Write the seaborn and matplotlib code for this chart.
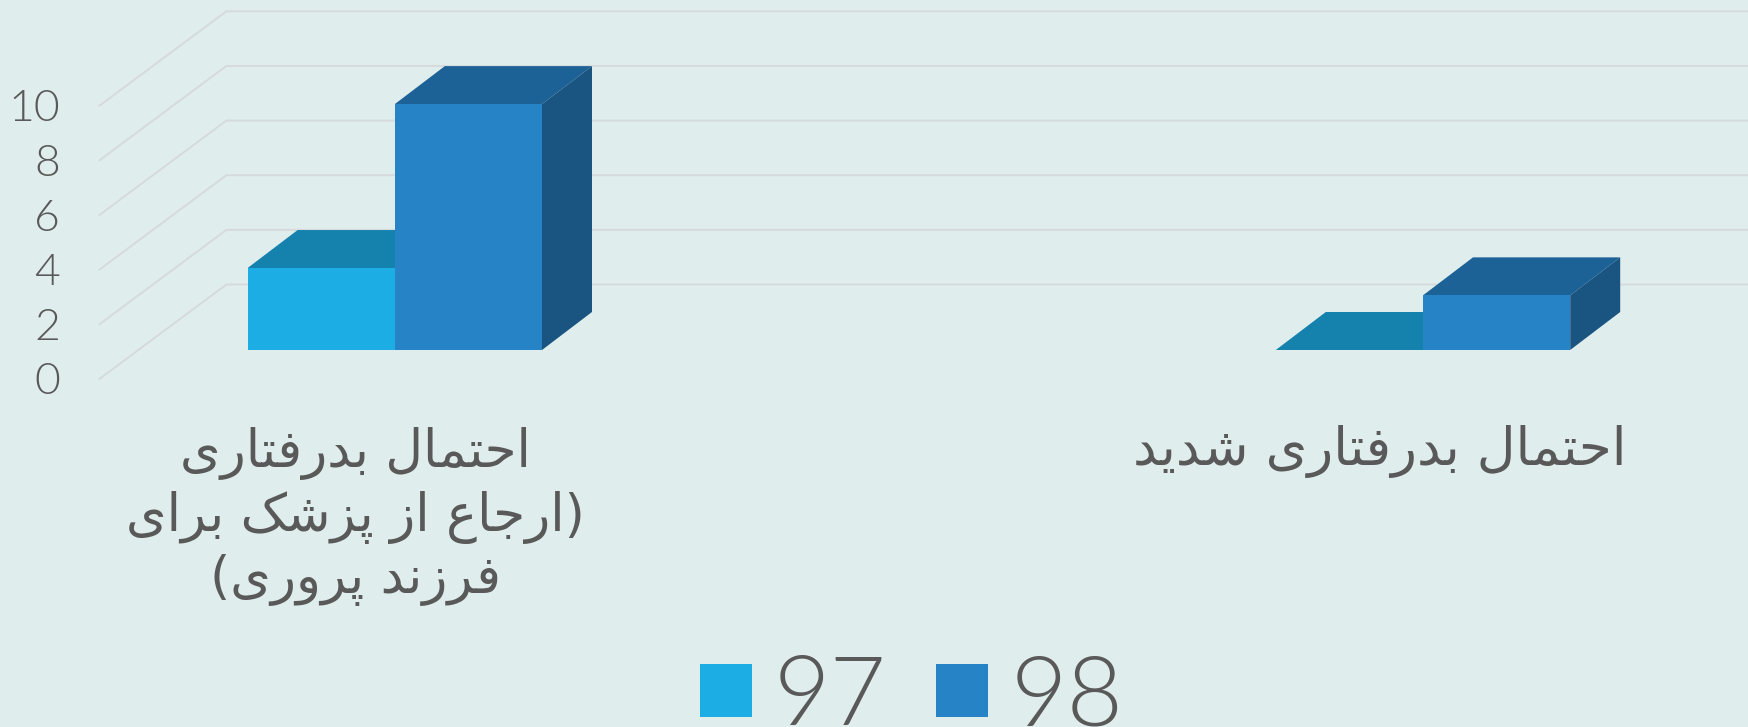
import numpy as np
import pandas as pd
import matplotlib.pyplot as plt
from matplotlib import font_manager as fm
import seaborn as sns

CATEGORIES = ['احتمال بدرفتاری\n(ارجاع از پزشک برای\nفرزند پروری)', 'احتمال بدرفتاری شدید']
SERIES = ['97', '98']
VALUES_97 = [3, 0]
VALUES_98 = [9, 2]
Y_TICKS = [0, 2, 4, 6, 8, 10]

BG = '#E0EDED'
TEXT = '#595959'
GRID = '#D6DADB'
FRONT = ['#1CADE4', '#2683C6']
TOP = ['#1582AE', '#1C6296']
SIDE = ['#137BA3', '#1A5581']

# figure size in px, the axes fill the whole figure
W, H = 1749, 727
BASE_PX = 350
UNIT_PX = 27.32
CAT0_PX = 394.8
CAT_STEP_PX = 1028.2
BAR_PX = 147.2

# contextual forms: isolated, final, initial, medial
FORMS = {
    'ا': 'ﺍﺎ', 'د': 'ﺩﺪ', 'ر': 'ﺭﺮ', 'ز': 'ﺯﺰ', 'و': 'ﻭﻮ',
    'ب': 'ﺏﺐﺑﺒ', 'پ': '\ufb56\ufb57\ufb58\ufb59', 'ت': 'ﺕﺖﺗﺘ', 'ج': 'ﺝﺞﺟﺠ',
    'ح': 'ﺡﺢﺣﺤ', 'ش': 'ﺵﺶﺷﺸ', 'ع': 'ﻉﻊﻋﻌ', 'ف': 'ﻑﻒﻓﻔ',
    'ک': '\ufb8e\ufb8f\ufb90\ufb91', 'ل': 'ﻝﻞﻟﻠ', 'م': 'ﻡﻢﻣﻤ', 'ن': 'ﻥﻦﻧﻨ',
    'ی': '\ufbfc\ufbfd\ufbfe\ufbff',
}
MIRROR = {'(': ')', ')': '('}


def shape_line(line):
    # matplotlib has no arabic shaping, so pick the forms and reverse by hand
    out = []
    for i, c in enumerate(line):
        if c not in FORMS:
            out.append(MIRROR.get(c, c))
            continue
        prev = line[i - 1] if i > 0 else ' '
        nxt = line[i + 1] if i + 1 < len(line) else ' '
        join_prev = prev in FORMS and len(FORMS[prev]) == 4
        join_next = nxt in FORMS and len(FORMS[c]) == 4
        idx = {(False, False): 0, (True, False): 1, (False, True): 2, (True, True): 3}[(join_prev, join_next)]
        out.append(FORMS[c][idx])
    return ''.join(out[::-1])


def shape(text):
    return '\n'.join(shape_line(l) for l in text.split('\n'))


def light_font(size):
    # asking for weight='light' lands on the hairline cut, so take the file itself
    for f in fm.fontManager.ttflist:
        if f.fname.endswith('Lato-Light.ttf'):
            return fm.FontProperties(fname=f.fname, size=size)
    return fm.FontProperties(family='Lato', size=size)


data = pd.DataFrame({
    'category': CATEGORIES * 2,
    'series': [SERIES[0]] * 2 + [SERIES[1]] * 2,
    'value': VALUES_97 + VALUES_98,
})

sns.set_theme(style='white')
plt.rcParams['font.family'] = ['Lato', 'DejaVu Sans']

fig = plt.figure(figsize=(W / 100, H / 100), dpi=100, facecolor=BG)
ax = fig.add_axes([0, 0, 1, 1])

sns.barplot(data=data, x='category', y='value', hue='series', hue_order=SERIES, palette=FRONT,
            width=2 * BAR_PX / CAT_STEP_PX, gap=0, linewidth=0, saturation=1, legend=False,
            zorder=3, ax=ax)

ax.set_xlim(-CAT0_PX / CAT_STEP_PX, (W - CAT0_PX) / CAT_STEP_PX)
ax.set_ylim(-(H - BASE_PX) / UNIT_PX, BASE_PX / UNIT_PX)
ax.set_axis_off()

px_x = 1 / CAT_STEP_PX
px_y = 1 / UNIT_PX

# side wall and back wall lines
wall_front_x = (99.3 - CAT0_PX) * px_x
wall_back_x = (226.4 - CAT0_PX) * px_x
wall_front_dy = (BASE_PX - 379) * px_y
wall_back_dy = (BASE_PX - 284.5) * px_y
for v in Y_TICKS:
    ax.plot([wall_front_x, wall_back_x, ax.get_xlim()[1]],
            [v + wall_front_dy, v + wall_back_dy, v + wall_back_dy],
            color=GRID, lw=1.4, zorder=1, solid_joinstyle='miter')
    ax.text((60 - CAT0_PX) * px_x, v + wall_front_dy, str(v), ha='right', va='center_baseline',
            fontproperties=light_font(32), color=TEXT)

# depth of the bars, top and side faces come from the drawn bars
dx = 50 * px_x
dy = 38 * px_y
for k, cont in enumerate(ax.containers):
    for bar in cont:
        x0 = bar.get_x()
        x1 = x0 + bar.get_width()
        h = bar.get_height()
        if np.isnan(h):
            h = 0
        ax.fill([x0, x1, x1 + dx, x0 + dx], [h, h, h + dy, h + dy], color=TOP[k], lw=0, zorder=2 + k * 0.1)
        if k == 1:
            ax.fill([x1, x1 + dx, x1 + dx, x1], [0, dy, h + dy, h], color=SIDE[k], lw=0, zorder=2 + k * 0.1)

# category labels sit a little left of the bars
label_x = [-39 * px_x, 1 - 43 * px_x]
label_y = [(BASE_PX - 516.5) * px_y, (BASE_PX - 452) * px_y]
label_size = [37.4, 38.4]
for i, label in enumerate(CATEGORIES):
    ax.text(label_x[i], label_y[i], shape(label), ha='center', va='center',
            fontsize=label_size[i], color=TEXT, family='DejaVu Sans', linespacing=1.27)

handles = [plt.Rectangle((0, 0), 1, 1, color=c, lw=0) for c in FRONT]
ax.legend(handles, SERIES, loc='lower left', bbox_to_anchor=(700 / W, -15 / H), ncol=2, frameon=False,
          prop=light_font(70),
          labelcolor=TEXT, borderpad=0, borderaxespad=0, handlelength=0.535, handleheight=0.473,
          handletextpad=0.226, columnspacing=0.51)

fig.savefig('out.png', dpi=100, facecolor=BG)
